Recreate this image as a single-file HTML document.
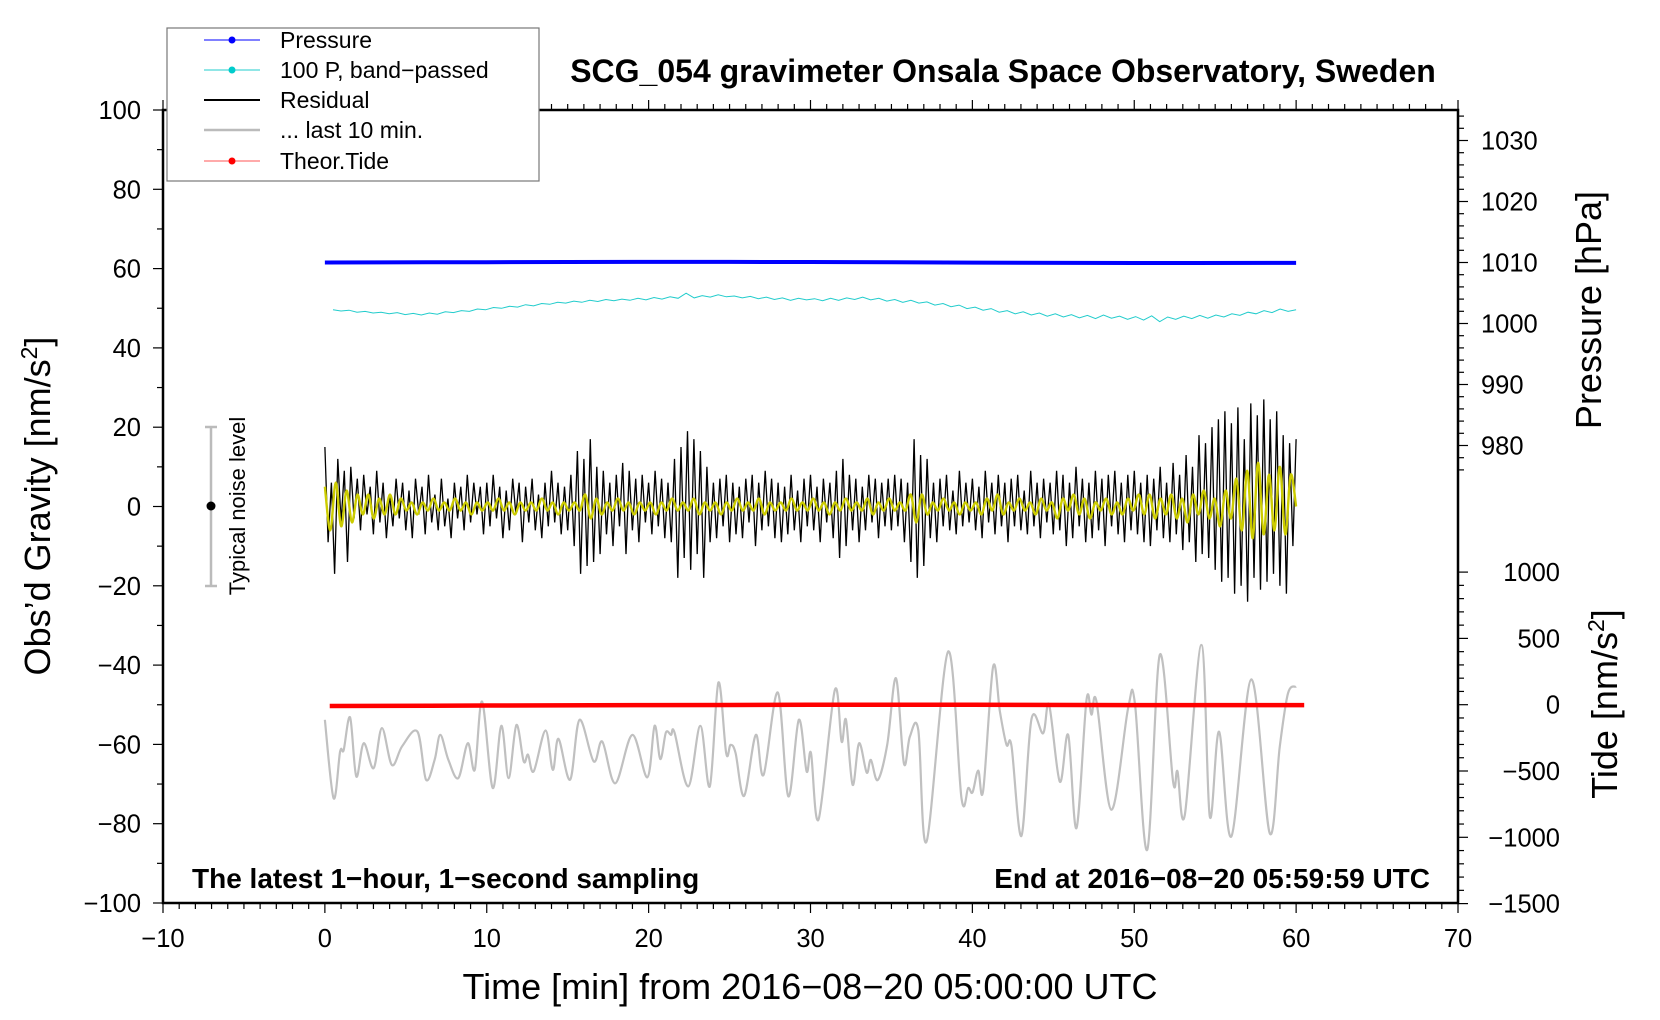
<!DOCTYPE html>
<html><head><meta charset="utf-8"><style>
html,body{margin:0;padding:0;background:#fff;}
svg{display:block;font-family:"Liberation Sans",Arial,sans-serif;}
</style></head><body>
<svg id="chart" width="1660" height="1020" viewBox="0 0 1660 1020" xmlns="http://www.w3.org/2000/svg">
<rect x="0" y="0" width="1660" height="1020" fill="#fff"/>
<g id="plot"></g>
<g id="axes"></g>
<text x="1003" y="82" text-anchor="middle" font-size="32" font-weight="bold">SCG_054 gravimeter Onsala Space Observatory, Sweden</text>
<text x="810" y="999" text-anchor="middle" font-size="36">Time [min] from 2016−08−20 05:00:00 UTC</text>
<text transform="translate(50,506) rotate(-90)" text-anchor="middle" font-size="36">Obs’d Gravity [nm/s<tspan dy="-13" font-size="23">2</tspan><tspan dy="13">]</tspan></text>
<text transform="translate(1601,310) rotate(-90)" text-anchor="middle" font-size="36">Pressure [hPa]</text>
<text transform="translate(1617,704) rotate(-90)" text-anchor="middle" font-size="36">Tide [nm/s<tspan dy="-13" font-size="23">2</tspan><tspan dy="13">]</tspan></text>
<text x="192" y="888" font-size="28" font-weight="bold">The latest 1−hour, 1−second sampling</text>
<text x="1430" y="888" text-anchor="end" font-size="28" font-weight="bold">End at 2016−08−20 05:59:59 UTC</text>
<g>
<line x1="211" y1="427" x2="211" y2="586" stroke="#bbb" stroke-width="2.5"/>
<line x1="205" y1="427" x2="217" y2="427" stroke="#bbb" stroke-width="2.5"/>
<line x1="205" y1="586" x2="217" y2="586" stroke="#bbb" stroke-width="2.5"/>
<circle cx="211" cy="506" r="4.5" fill="#000"/>
<text transform="translate(245,506) rotate(-90)" text-anchor="middle" font-size="22">Typical noise level</text>
</g>
<g>
<rect x="167" y="28" width="372" height="153" fill="#fff" stroke="#777" stroke-width="1.2"/>
<g><line x1="204" y1="40" x2="260" y2="40" stroke="#00f" stroke-width="1"/><circle cx="232" cy="40" r="3.5" fill="#00f"/><text x="280" y="48" font-size="23">Pressure</text></g>
<g><line x1="204" y1="70" x2="260" y2="70" stroke="#2cc" stroke-width="1"/><circle cx="232" cy="70" r="3.5" fill="#0cc"/><text x="280" y="78" font-size="23">100 P, band−passed</text></g>
<g><line x1="204" y1="100" x2="260" y2="100" stroke="#000" stroke-width="2"/><text x="280" y="108" font-size="23">Residual</text></g>
<g><line x1="204" y1="130" x2="260" y2="130" stroke="#bbb" stroke-width="2.5"/><text x="280" y="138" font-size="23">... last 10 min.</text></g>
<g><line x1="204" y1="161" x2="260" y2="161" stroke="#f55" stroke-width="1"/><circle cx="232" cy="161" r="3.5" fill="#f00"/><text x="280" y="169" font-size="23">Theor.Tide</text></g>
</g>
</svg>
<script>
// ---- data ----
const pressureTimes=[0,10,20,30,40,50,60];
const pressureValues=[1010.0,1010.05,1010.1,1010.08,1009.98,1009.92,1009.93];
const tideTimes=[0.3,10,20,30,40,50,60.5];
const tideValues=[-10,-6,-3,-1,-1,-3,-3];
const bandPassed=[49.6,49.3,49.5,49.0,49.2,48.8,49.0,48.6,48.9,48.4,48.7,
48.3,48.8,48.5,49.1,48.9,49.4,49.2,49.8,49.6,50.2,
50.0,50.5,50.3,50.9,50.6,51.2,51.0,51.5,51.3,51.8,
51.5,52.0,51.7,52.2,51.9,52.3,52.0,52.5,52.1,52.7,
52.3,52.9,52.5,53.8,52.6,53.2,52.8,53.4,52.9,53.1,
52.6,53.0,52.4,52.8,52.2,52.6,52.0,52.5,52.1,52.4,
51.9,52.5,52.0,52.6,52.2,52.8,52.1,52.5,51.8,52.2,
51.5,52.0,51.3,51.6,50.8,51.2,50.4,50.8,49.9,50.3,
49.5,49.9,49.0,49.4,48.6,49.1,48.3,48.8,48.0,48.6,
47.8,48.4,47.6,48.2,47.4,48.3,47.5,48.0,47.2,47.9,
47.0,48.1,46.6,47.8,47.2,48.0,47.4,48.2,47.5,48.3,
47.8,48.6,48.2,49.0,48.6,49.4,48.9,49.8,49.2,49.6];
const residual=[15,-9,6,-17,12,-4,9,-14,10,-3,7,-6,8,-2,5,-7,9,-4,6,-8,3,-5,7,-3,6,
-6,4,-8,7,-2,5,-7,8,-4,3,-6,7,-5,2,-8,6,-3,5,-6,8,-4,6,-2,5,-7,
6,-5,8,-3,5,-8,4,-6,7,-2,6,-9,5,-4,7,-6,3,-8,6,-5,9,-4,6,-7,5,
-6,8,-10,14,-17,12,-15,17,-14,10,-12,9,-7,6,-10,8,-5,11,-12,9,-6,7,-9,8,-4,
6,-7,9,-5,7,-8,6,-9,12,-18,15,-13,19,-16,17,-12,14,-18,10,-9,6,-8,7,-5,8,
-9,6,-7,5,-8,7,-4,8,-10,6,-6,9,-5,7,-8,6,-9,5,-7,8,-6,4,-9,7,-5,
8,-6,5,-9,7,-4,6,-8,9,-13,12,-10,8,-6,7,-9,5,-6,8,-4,7,-8,6,-5,7,
-6,8,-5,7,-9,6,-14,17,-18,13,-15,12,-8,6,-9,7,-5,8,-6,4,-7,9,-5,6,-4,
7,-6,5,-8,9,-4,6,-7,8,-5,6,-9,7,-5,8,-6,4,-7,9,-5,6,-8,7,-4,6,
-7,9,-6,8,-10,6,-8,10,-5,7,-9,6,-8,9,-6,7,-10,8,-5,9,-7,6,-9,8,-6,
9,-7,6,-9,8,-10,7,-6,10,-8,6,-9,11,-7,8,-11,13,-9,10,-14,18,-12,16,-13,20,
-16,22,-19,24,-18,21,-22,25,-20,17,-24,26,-18,23,-21,27,-19,22,-17,24,-20,18,-22,16,-10,17];
const filtered=[5,-6,6,-5,4,-4,3,-2,3,-3,2,-2,3,-2,2,-1,1,-2,1,-1,2,-1,1,-1,2,-1,1,-2,1,-1,
1,-1,2,-1,1,-2,1,-1,1,-1,2,-1,1,-2,1,-1,1,-1,3,-3,2,-2,1,-1,2,-1,1,-2,1,-1,
1,-2,1,-1,2,-1,1,-1,2,-2,1,-1,1,-2,1,-1,2,-1,1,-1,2,-2,1,-1,1,-1,2,-1,1,-1,
2,-1,1,-2,1,-1,2,-1,1,-1,2,-2,1,-1,2,-1,1,-1,3,-4,3,-2,1,-1,2,-1,1,-2,1,-1,
1,-2,2,-1,3,-2,1,-1,2,-1,1,-2,2,-1,1,-3,2,-1,3,-2,2,-3,1,-1,2,-2,1,-2,2,-1,
3,-2,3,-3,2,-2,3,-3,2,-4,3,-2,4,-3,2,-5,4,-3,7,-6,9,-8,11,-7,8,-6,10,-7,8,0];
const lastTimes=[0,0.54,0.94,1.16,1.56,1.94,2.40,3.01,3.52,4.14,4.78,5.72,6.25,6.78,7.13,7.63,8.24,8.83,9.26,9.71,10.37,10.90,11.35,11.83,12.28,12.55,12.90,13.63,14.08,14.43,15.15,15.73,16.61,17.14,17.94,18.99,19.92,20.37,20.72,21.07,21.38,21.60,22.45,23.19,23.78,24.31,24.79,25.06,25.37,25.90,26.62,27.10,27.98,28.63,29.28,29.76,30.03,30.5,31.5,31.92,32.19,32.6,33.0,33.47,33.73,34.15,34.74,35.28,35.77,36.14,36.66,37.17,38.5,39.33,39.74,40.01,40.36,40.67,41.28,41.7,42.11,42.42,43.03,43.65,44.37,44.74,45.4,45.92,46.43,47.05,47.36,47.67,48.59,49.62,50.04,50.8,51.58,52.4,52.67,53.12,54.15,54.67,55.24,56.0,57.24,58.37,58.99,59.5,60.0];
const lastValues=[-53.8,-73.6,-61.8,-61.4,-53.2,-68.1,-59.7,-66,-55.9,-65.2,-60.4,-56.8,-68.9,-63.9,-57.6,-63.9,-68.5,-59.7,-66.4,-49.2,-71.0,-55.3,-68.5,-55.1,-64.3,-62.6,-66.8,-56.5,-66.4,-58.6,-68.9,-53.8,-64.3,-59.3,-69.8,-57.6,-68.3,-55.3,-63.7,-57.0,-57.6,-57.0,-70.6,-55.3,-70.6,-44.4,-62.2,-60.1,-62.2,-73.0,-57.6,-67.7,-46.9,-73.1,-53.8,-66.8,-62.2,-78.9,-46.3,-59.3,-53.8,-70.2,-59.7,-67.1,-63.9,-69.0,-60.1,-43.3,-64.8,-58.0,-56.4,-84.5,-36.6,-73.6,-71.0,-72.1,-66.6,-71.6,-40.4,-51.7,-60.1,-60.4,-83.1,-53.6,-57.2,-50.0,-69.4,-57.6,-81.1,-48.8,-52.5,-49.2,-76.5,-50.9,-49.6,-86.6,-37.4,-69.4,-66.8,-77.8,-34.9,-78.2,-56.8,-83.2,-43.6,-82.4,-60.5,-47.1,-45.4];
const xTicks=[-10,0,10,20,30,40,50,60,70];
const yTicks=[-100,-80,-60,-40,-20,0,20,40,60,80,100];
const pTicks=[980,990,1000,1010,1020,1030];
const tTicks=[-1500,-1000,-500,0,500,1000];

// ---- scales ----
const X=t=>163+(t+10)*(1295/80);
const Y=v=>110+(100-v)*(793/200);
const P=p=>262.5-(p-1010)*6.1;
const T=v=>704.7-v*0.1326;
const NS="http://www.w3.org/2000/svg";
const plot=document.getElementById('plot'), axes=document.getElementById('axes');
function mk(tag,attrs,parent){const e=document.createElementNS(NS,tag);for(const k in attrs)e.setAttribute(k,attrs[k]);parent.appendChild(e);return e;}
function poly(pts){return pts.map(p=>p[0].toFixed(1)+','+p[1].toFixed(1)).join(' ');}
function smooth(pts){let d='M'+pts[0][0]+','+pts[0][1];for(let i=0;i<pts.length-1;i++){const p0=pts[Math.max(0,i-1)],p1=pts[i],p2=pts[i+1],p3=pts[Math.min(pts.length-1,i+2)];const c1=[p1[0]+(p2[0]-p0[0])/6,p1[1]+(p2[1]-p0[1])/6],c2=[p2[0]-(p3[0]-p1[0])/6,p2[1]-(p3[1]-p1[1])/6];d+=` C${c1[0].toFixed(1)},${c1[1].toFixed(1)} ${c2[0].toFixed(1)},${c2[1].toFixed(1)} ${p2[0].toFixed(1)},${p2[1].toFixed(1)}`;}return d;}

let e=mk('path',{d:smooth(lastTimes.map((t,i)=>[X(t),Y(lastValues[i])])),fill:'none',stroke:'#c0c0c0','stroke-width':2.2},plot);


e=mk('path',{d:smooth(tideTimes.map((t,i)=>[X(t),T(tideValues[i])])),fill:'none',stroke:'#f00','stroke-width':4.5},plot);


e=mk('path',{d:smooth(pressureTimes.map((t,i)=>[X(t),P(pressureValues[i])])),fill:'none',stroke:'#00f','stroke-width':4},plot);


e=mk('polyline',{points:poly(bandPassed.map((v,i)=>[X(0.5+i*59.5/(bandPassed.length-1)),Y(v)])),fill:'none',stroke:'#2cc','stroke-width':1},plot);


e=mk('polyline',{points:poly(residual.map((v,i)=>[X(i*60/(residual.length-1)),Y(v)])),fill:'none',stroke:'#000','stroke-width':1.3},plot);


e=mk('path',{d:smooth(filtered.map((v,i)=>[X(i*60/(filtered.length-1)),Y(v)])),fill:'none',stroke:'#cc0','stroke-width':2.4},plot);



// ---- axes ----
e=mk('rect',{x:163,y:110,width:1295,height:793,fill:'none',stroke:'#000','stroke-width':2.5},axes);


for(let t=-10;t<=70;t+=1){const big=t%10===0;mk('line',{x1:X(t),x2:X(t),y1:903,y2:903+(big?10:6),stroke:'#000','stroke-width':1.2},axes);mk('line',{x1:X(t),x2:X(t),y1:110,y2:110-(big?10:6),stroke:'#000','stroke-width':1.2},axes);}
xTicks.forEach(t=>{const l=mk('text',{x:X(t),y:947,'text-anchor':'middle','font-size':25.5},axes);l.textContent=(t<0?'−':'')+Math.abs(t);

});
for(let v=-100;v<=100;v+=10){mk('line',{x1:163,x2:163-(v%20===0?10:6),y1:Y(v),y2:Y(v),stroke:'#000','stroke-width':1.2},axes);}
yTicks.forEach(v=>{const l=mk('text',{x:141,y:Y(v)+9,'text-anchor':'end','font-size':25.5},axes);l.textContent=(v<0?'−':'')+Math.abs(v);

});
for(let p=976;p<=1034;p+=2){mk('line',{x1:1458,x2:1458+(p%10===0?10:6),y1:P(p),y2:P(p),stroke:'#000','stroke-width':1.2},axes);}
pTicks.forEach(p=>{const l=mk('text',{x:1481,y:P(p)+9,'font-size':25.5},axes);l.textContent=p;

});
for(let v=-1500;v<=1100;v+=100){if(T(v)<560)continue;mk('line',{x1:1458,x2:1458+(v%500===0?10:6),y1:T(v),y2:T(v),stroke:'#000','stroke-width':1.2},axes);}
tTicks.forEach(v=>{const l=mk('text',{x:1560,y:T(v)+9,'text-anchor':'end','font-size':25.5},axes);l.textContent=(v<0?'−':'')+Math.abs(v);

});
</script>
</body></html>
